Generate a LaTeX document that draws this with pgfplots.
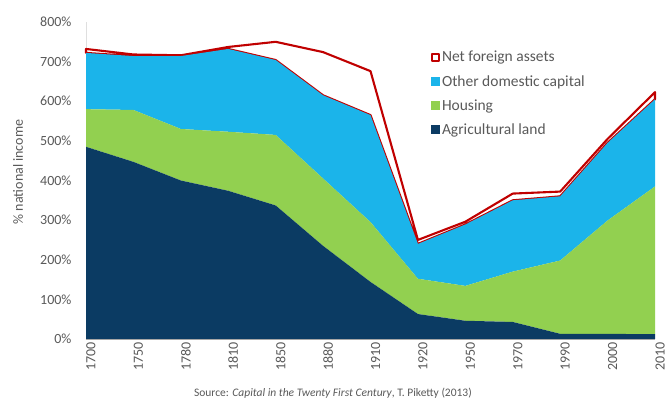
\documentclass[border=0pt]{standalone}
\usepackage{pgfplots}
\pgfplotsset{compat=1.18}
\usepackage{fontspec}
\setmainfont{Carlito}
\definecolor{agri}{HTML}{0B3B63}
\definecolor{hous}{HTML}{92D050}
\definecolor{other}{HTML}{1BB4EA}
\definecolor{nfa}{HTML}{C00000}
\definecolor{txt}{HTML}{595959}
\begin{document}
\begin{tikzpicture}
\useasboundingbox (0pt,0pt) rectangle (668pt,403pt);
\begin{axis}[
  at={(86pt,64pt)}, anchor=south west, scale only axis,
  width=569pt, height=317pt,
  xmin=0, xmax=12, ymin=0, ymax=800,
  stack plots=y,
  xtick={0,1,2,3,4,5,6,7,8,9,10,11,12},
  xticklabels={1700,1750,1780,1810,1850,1880,1910,1920,1950,1970,1990,2000,2010},
  ytick={0,100,200,300,400,500,600,700,800},
  yticklabel={\pgfmathprintnumber{\tick}\%},
  major tick length=0pt,
  axis x line*=bottom, axis y line*=left,
  x axis line style={-, draw=gray!70, line width=0.8pt},
  y axis line style={-, draw=gray!25, line width=0.6pt},
  x tick label style={rotate=90, anchor=east, yshift=-5pt, font=\fontsize{14}{14}\selectfont, text=txt},
  y tick label style={anchor=east, xshift=-11pt, font=\fontsize{14}{14}\selectfont, text=txt},
  /pgf/number format/assume math mode=true,
  ylabel={\% national income},
  ylabel style={at={(axis description cs:-0.1195,0.527)}, anchor=center, font=\fontsize{14}{14}\selectfont, text=txt},
  legend style={at={(axis description cs:0.606,0.915)}, anchor=north west, draw=none, fill=none,
    font=\fontsize{15.5}{15.5}\selectfont, text=txt, row sep=8pt, inner sep=0pt},
  legend cell align=left,
  reverse legend,
  clip=false,
]
\addplot[fill=agri, draw=none, legend image code/.code={\fill[agri] (0pt,-4.5pt) rectangle (9pt,4.5pt);}]
  coordinates {(0,485) (1,447) (2,400) (3,374) (4,337) (5,235) (6,144) (7,63) (8,46) (9,43) (10,13) (11,13) (12,12)} \closedcycle;
\addlegendentry{Agricultural land}
\addplot[fill=hous, draw=none, legend image code/.code={\fill[hous] (0pt,-4.5pt) rectangle (9pt,4.5pt);}]
  coordinates {(0,95) (1,131) (2,130) (3,149) (4,178) (5,170) (6,151) (7,89) (8,88) (9,127) (10,185) (11,286) (12,373)} \closedcycle;
\addlegendentry{Housing}
\addplot[fill=other, draw=none, legend image code/.code={\fill[other] (0pt,-4.5pt) rectangle (9pt,4.5pt);}]
  coordinates {(0,142) (1,136) (2,184) (3,209) (4,189) (5,210) (6,270) (7,88) (8,155) (9,180) (10,162) (11,196) (12,220)} \closedcycle;
\addlegendentry{Other domestic capital}
\addplot[fill=white, draw=nfa, line width=2.1pt, line join=round, legend image code/.code={\draw[nfa, fill=white, line width=2pt] (1pt,-3.5pt) rectangle (8pt,3.5pt);}]
  coordinates {(0,10) (1,4) (2,2) (3,5) (4,46) (5,109) (6,111) (7,10) (8,7) (9,17) (10,12) (11,10) (12,18)} \closedcycle;
\addlegendentry{Net foreign assets}
\node[font=\fontsize{11.5}{11.5}\selectfont, text=txt] at (axis description cs:0.434,-0.170)
  {Source: \textit{Capital in the Twenty First Century}, T. Piketty (2013)};
\end{axis}
\end{tikzpicture}
\end{document}
